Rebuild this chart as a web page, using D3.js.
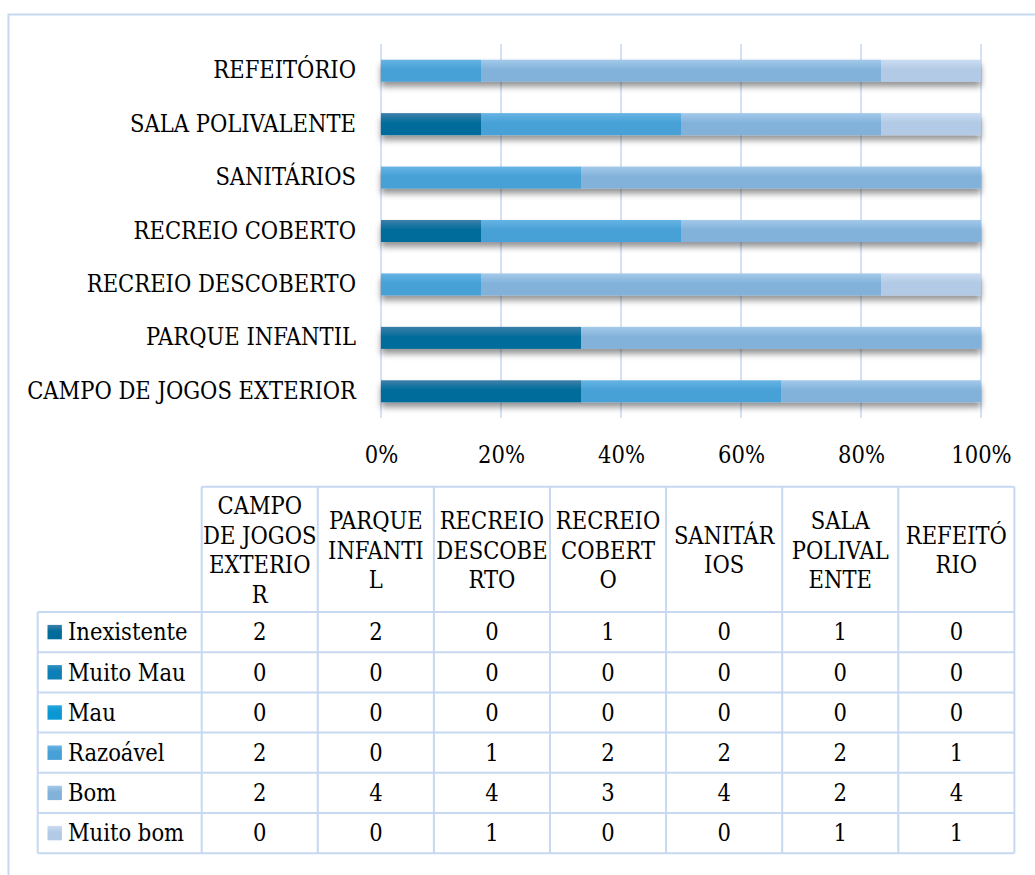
<!DOCTYPE html>
<html>
<head>
<meta charset="utf-8">
<script src="https://cdn.jsdelivr.net/npm/d3@7/dist/d3.min.js"></script>
<style>
  body { margin: 0; background: #fff; }
  text { font-family: "DejaVu Serif Condensed", "DejaVu Serif", serif; font-stretch: condensed; fill: #000; }
</style>
</head>
<body>
<div id="chart"></div>
<script>
// categories, bottom bar first (same order as the table columns)
const categories = ["CAMPO DE JOGOS EXTERIOR", "PARQUE INFANTIL", "RECREIO DESCOBERTO",
  "RECREIO COBERTO", "SANITÁRIOS", "SALA POLIVALENTE", "REFEITÓRIO"];
const headerLines = [["CAMPO", "DE JOGOS", "EXTERIO", "R"], ["PARQUE", "INFANTI", "L"],
  ["RECREIO", "DESCOBE", "RTO"], ["RECREIO", "COBERT", "O"], ["SANITÁR", "IOS"],
  ["SALA", "POLIVAL", "ENTE"], ["REFEITÓ", "RIO"]];
const seriesNames = ["Inexistente", "Muito Mau", "Mau", "Razoável", "Bom", "Muito bom"];
const inexistente = [2, 2, 0, 1, 0, 1, 0];
const muitoMau = [0, 0, 0, 0, 0, 0, 0];
const mau = [0, 0, 0, 0, 0, 0, 0];
const razoavel = [2, 0, 1, 2, 2, 2, 1];
const bom = [2, 4, 4, 3, 4, 2, 4];
const muitoBom = [0, 0, 1, 0, 0, 1, 1];
const tickValues = [0, 0.2, 0.4, 0.6, 0.8, 1];

const seriesValues = [inexistente, muitoMau, mau, razoavel, bom, muitoBom];
const colTop = ["#3d80a9", "#2f8fc0", "#2aa5dc", "#66b4e4", "#a3c9ea", "#cadcf1"];
const colBot = ["#006c9b", "#0b7fb6", "#0a98d4", "#47a0d6", "#82b2da", "#b2cae5"];
const gridCol = "#c6d9f1";

const W = 1035, H = 875;
const svg = d3.select("#chart").append("svg")
  .attr("width", W)
  .attr("height", H);

// fit the font size so the longest category label has the reference width
const probe = svg.append("text").attr("font-size", 100).text(categories[0]);
const fs = 100 * 329 / probe.node().getComputedTextLength();
probe.remove();

const defs = svg.append("defs");
seriesNames.forEach((s, i) => {
  const g = defs.append("linearGradient").attr("id", "g" + i)
    .attr("x1", 0).attr("y1", 0).attr("x2", 0).attr("y2", 1);
  g.append("stop").attr("offset", 0).attr("stop-color", colTop[i]);
  g.append("stop").attr("offset", 0.45).attr("stop-color", colBot[i]);
  g.append("stop").attr("offset", 1).attr("stop-color", colBot[i]);
});
const f = defs.append("filter").attr("id", "shadow")
  .attr("x", -0.05).attr("y", -0.3).attr("width", 1.1).attr("height", 2);
f.append("feDropShadow").attr("dx", 0).attr("dy", 5).attr("stdDeviation", 3)
  .attr("flood-color", "#000").attr("flood-opacity", 0.42);

// outer frame
svg.append("rect")
  .attr("x", 8.5).attr("y", 14.5)
  .attr("width", W + 50).attr("height", H + 50)
  .attr("fill", "none").attr("stroke", gridCol).attr("stroke-width", 2);

// ---- bar chart ----
const rows = categories.map((c, j) => {
  const r = { cat: c };
  seriesNames.forEach((s, i) => r[s] = seriesValues[i][j]);
  return r;
});
const stacked = d3.stack().keys(seriesNames).offset(d3.stackOffsetExpand)(rows);

const x = d3.scaleLinear().domain([0, 1]).range([381, 981]);
const y = d3.scaleBand().domain(categories.slice().reverse())
  .range([44, 418]).paddingInner(0.588).paddingOuter(0.294);

svg.append("g").selectAll("line")
  .data(tickValues)
  .join("line")
  .attr("x1", d => x(d)).attr("x2", d => x(d))
  .attr("y1", 44).attr("y2", 418)
  .attr("stroke", gridCol).attr("stroke-width", 1.5);

svg.append("g").attr("filter", "url(#shadow)")
  .selectAll("g")
  .data(stacked)
  .join("g")
  .attr("fill", (d, i) => `url(#g${i})`)
  .selectAll("rect")
  .data(d => d)
  .join("rect")
  .attr("x", d => x(d[0]))
  .attr("width", d => x(d[1]) - x(d[0]))
  .attr("y", d => y(d.data.cat))
  .attr("height", y.bandwidth());

const xAxis = svg.append("g")
  .attr("transform", "translate(0,443)")
  .call(d3.axisBottom(x).tickValues(tickValues).tickFormat(d3.format(".0%")).tickSize(0));
xAxis.select(".domain").remove();
xAxis.selectAll("text").attr("font-size", fs).attr("font-family", null);

const yAxis = svg.append("g")
  .attr("transform", "translate(381,0)")
  .call(d3.axisLeft(y).tickSize(0).tickPadding(25));
yAxis.select(".domain").remove();
yAxis.selectAll("text").attr("font-size", fs).attr("font-family", null);

// ---- data table ----
const colX = d3.range(8).map(i => 201.7 + i * 116.1);
const headTop = 486.7, headBot = 612, rowH = 40.2;
const rowY = d3.range(7).map(j => headBot + j * rowH);
const labelLeft = 37.7;

const tbl = svg.append("g");
const lineAttrs = sel => sel.attr("stroke", gridCol).attr("stroke-width", 2);

// header block
tbl.append("line").attr("x1", colX[0]).attr("x2", colX[7])
  .attr("y1", headTop).attr("y2", headTop).call(lineAttrs);
tbl.selectAll(".hl")
  .data(rowY)
  .join("line")
  .attr("x1", labelLeft).attr("x2", colX[7])
  .attr("y1", d => d).attr("y2", d => d)
  .call(lineAttrs);
tbl.selectAll(".vl")
  .data(colX)
  .join("line")
  .attr("x1", d => d).attr("x2", d => d)
  .attr("y1", headTop).attr("y2", rowY[6])
  .call(lineAttrs);
tbl.append("line").attr("x1", labelLeft).attr("x2", labelLeft)
  .attr("y1", headBot).attr("y2", rowY[6]).call(lineAttrs);

const lh = 29.5;
headerLines.forEach((lines, i) => {
  const cx = (colX[i] + colX[i + 1]) / 2;
  const cy = (headTop + headBot) / 2 + 1;
  const t = tbl.append("text")
    .attr("text-anchor", "middle")
    .attr("font-size", fs);
  lines.forEach((l, k) => {
    t.append("tspan")
      .attr("x", cx)
      .attr("y", cy + (k - (lines.length - 1) / 2) * lh)
      .attr("dy", "0.35em")
      .text(l);
  });
});

seriesNames.forEach((s, j) => {
  const cy = rowY[j] + rowH / 2;
  tbl.append("rect")
    .attr("x", 47.5).attr("y", cy - 7.2)
    .attr("width", 14.4).attr("height", 14.4)
    .attr("fill", `url(#g${j})`);
  tbl.append("text")
    .attr("x", 68).attr("y", cy).attr("dy", "0.35em")
    .attr("font-size", fs)
    .text(s);
  seriesValues[j].forEach((v, i) => {
    tbl.append("text")
      .attr("x", (colX[i] + colX[i + 1]) / 2)
      .attr("y", cy).attr("dy", "0.35em")
      .attr("text-anchor", "middle")
      .attr("font-size", fs)
      .text(v);
  });
});
</script>
</body>
</html>
